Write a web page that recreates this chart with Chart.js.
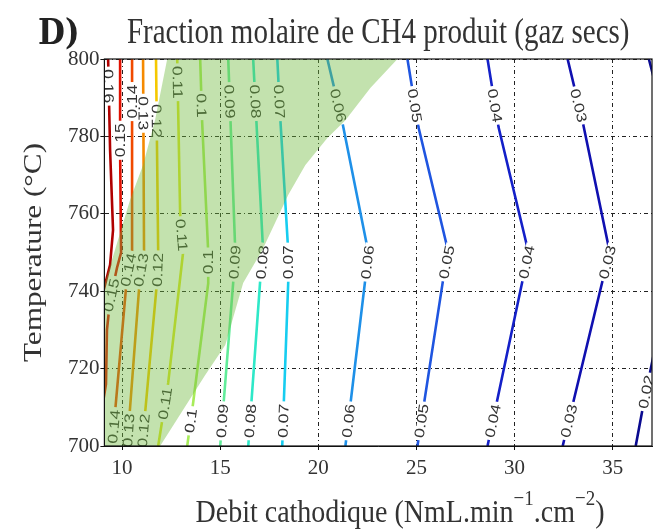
<!DOCTYPE html>
<html>
<head>
<meta charset="utf-8">
<script src="https://cdn.jsdelivr.net/npm/chart.js@4.4.1/dist/chart.umd.min.js"></script>
<style>
  html, body { margin: 0; padding: 0; background: #fff; }
</style>
</head>
<body>
<canvas id="ch4Chart" width="663" height="531"></canvas>
<script>
// axes
const xTicks = [10, 15, 20, 25, 30, 35];
const yTicks = [700, 720, 740, 760, 780, 800];

// iso-lines of CH4 fraction: [debit, temperature]
const levels = [0.16, 0.15, 0.14, 0.13, 0.12, 0.11, 0.1, 0.09, 0.08, 0.07, 0.06, 0.05, 0.04, 0.03, 0.02];
const c16 = [[9.29, 800], [9.39, 776.5], [9.54, 755.8], [9.39, 746.8], [9.05, 740]];
const c15 = [[9.05, 711.9], [9.18, 716], [9.23, 730], [9.39, 737.7], [9.74, 746], [9.95, 750], [9.9, 776.5], [9.9, 800]];
const c14 = [[9.49, 700], [10.26, 744.2], [10.51, 750], [10.51, 800]];
const c13 = [[10.26, 700], [10.92, 744.2], [11.12, 750], [11.07, 800]];
const c12 = [[11.02, 700], [11.79, 742.9], [11.84, 750], [11.73, 800]];
const c11 = [[11.84, 700], [12.35, 716.3], [13.11, 750], [12.96, 759.7], [12.81, 800]];
const c10 = [[13.32, 700], [13.62, 711.1], [14.39, 742.1], [14.39, 750], [14.08, 783.7], [13.98, 800]];
const c09 = [[15.0, 700], [15.66, 742.1], [15.77, 750], [15.41, 800]];
const c08 = [[16.43, 700], [17.04, 742.9], [17.19, 750], [16.68, 800]];
const c07 = [[18.16, 700], [18.47, 742.9], [18.47, 750], [18.06, 784.8], [17.91, 800]];
const c06 = [[21.38, 700], [22.4, 743.4], [22.55, 750], [21.22, 783.7], [20.46, 800]];
const c05 = [[25.05, 700], [26.38, 743.7], [26.63, 750], [25.1, 782.4], [24.54, 800]];
const c04 = [[28.62, 700], [30.41, 742.9], [30.71, 750], [29.18, 782.4], [28.62, 800]];
const c03 = [[32.45, 700], [34.49, 742.9], [34.85, 750], [33.47, 783.7], [32.7, 800]];
const c02 = [[36.17, 700], [36.53, 709.8], [37.3, 729], null, [36.84, 800], [37.3, 791]];
const contourLines = [c16, c15, c14, c13, c12, c11, c10, c09, c08, c07, c06, c05, c04, c03, c02];

// shaded zone (upper and lower edge)
const zoneTop = [[9.1, 741.6], [10.41, 763.6], [11.07, 772.6], [11.68, 784.2], [12.3, 800], [24.03, 800]];
const zoneBottom = [[9.1, 700], [11.94, 700], [14.23, 718.3], [15.26, 726.1], [16.17, 742.1], [17.14, 750.6],
  [18.47, 764.9], [19.34, 772.6], [20.46, 779.6], [21.38, 784.2], [22.65, 792.5], [24.03, 800]];

// where the inline labels sit (level, temperature)
const labelSpots = [
  [0.16, 793], [0.15, 779], [0.15, 739], [0.14, 789], [0.14, 745.5], [0.14, 705],
  [0.13, 786], [0.13, 745.5], [0.13, 704], [0.12, 784], [0.12, 745.5], [0.12, 704],
  [0.11, 794], [0.11, 754.5], [0.11, 711], [0.1, 788], [0.1, 747.5], [0.1, 706.5],
  [0.09, 789], [0.09, 747.5], [0.09, 706.5], [0.08, 789], [0.08, 747.5], [0.08, 706.5],
  [0.07, 789], [0.07, 747.5], [0.07, 706.5], [0.06, 788], [0.06, 747.5], [0.06, 706.5],
  [0.05, 788], [0.05, 747.5], [0.05, 706.5], [0.04, 788], [0.04, 747.5], [0.04, 706.5],
  [0.03, 788], [0.03, 747.5], [0.03, 706.5], [0.02, 714]
];

const lineColors = ['#b00000', '#e01000', '#f04a00', '#f58a00', '#f5c800', '#dce628', '#a8ec5a', '#62ec9a',
  '#2ee8c8', '#16cdf0', '#1e90e8', '#1f55e0', '#1420c8', '#1010b0', '#0a0a90'];

const toXY = pts => pts.map(p => p ? {x: p[0], y: p[1]} : {x: 37, y: null});

const datasets = contourLines.map((pts, i) => ({
  data: toXY(pts),
  borderColor: lineColors[i],
  borderWidth: 2.6,
  pointRadius: 0,
  tension: 0,
  fill: false,
  order: 0
}));
datasets.push({
  data: toXY(zoneTop),
  borderColor: 'rgba(0,0,0,0)',
  borderWidth: 0,
  backgroundColor: 'rgba(112,186,62,0.42)',
  pointRadius: 0,
  fill: '+1',
  order: -1
});
datasets.push({
  data: toXY(zoneBottom),
  borderColor: 'rgba(0,0,0,0)',
  borderWidth: 0,
  pointRadius: 0,
  fill: false,
  order: -1
});

function spotOnLine(chart, pts, yVal) {
  const xs = chart.scales.x, ys = chart.scales.y;
  for (let i = 0; i < pts.length - 1; i++) {
    const p = pts[i], q = pts[i + 1];
    if (!p || !q) continue;
    const lo = Math.min(p[1], q[1]), hi = Math.max(p[1], q[1]);
    if (yVal < lo || yVal > hi || lo === hi) continue;
    const t = (yVal - p[1]) / (q[1] - p[1]);
    const x = p[0] + t * (q[0] - p[0]);
    const dn = p[1] < q[1] ? p : q, up = p[1] < q[1] ? q : p;
    let ang = Math.atan2(ys.getPixelForValue(up[1]) - ys.getPixelForValue(dn[1]),
                         xs.getPixelForValue(up[0]) - xs.getPixelForValue(dn[0]));
    if (ang < -Math.PI / 2) ang += Math.PI;
    if (ang > Math.PI / 2) ang -= Math.PI;
    return {px: xs.getPixelForValue(x), py: ys.getPixelForValue(yVal), ang};
  }
  return null;
}

const decorations = {
  id: 'decorations',
  afterDatasetDraw(chart, args) {
    if (args.index !== 0) return; // last iso-line drawn, shading comes after
    const {ctx, chartArea: a} = chart;
    ctx.save();
    ctx.beginPath();
    ctx.rect(a.left, a.top, a.right - a.left, a.bottom - a.top);
    ctx.clip();
    ctx.font = '14px "Liberation Sans"';
    ctx.textAlign = 'center';
    ctx.textBaseline = 'middle';
    labelSpots.forEach(([lev, t]) => {
      const s = spotOnLine(chart, contourLines[levels.indexOf(lev)], t);
      if (!s) return;
      const txt = String(lev);
      ctx.save();
      ctx.translate(s.px, s.py);
      ctx.rotate(s.ang);
      ctx.scale(1.25, 1);
      const w = ctx.measureText(txt).width;
      ctx.fillStyle = '#fff';
      ctx.fillRect(-w / 2 - 2, -4, w + 4, 8);
      ctx.fillStyle = '#333';
      ctx.fillText(txt, 0, 1);
      ctx.restore();
    });
    ctx.restore();
  },
  afterDraw(chart) {
    const {ctx, chartArea: a} = chart;
    ctx.save();
    ctx.setLineDash([]);
    ctx.strokeStyle = '#111';
    ctx.lineWidth = 1.2;
    ctx.strokeRect(a.left, a.top, a.right - a.left, a.bottom - a.top);

    ctx.fillStyle = '#222';
    // panel letter
    ctx.save();
    ctx.translate(38, 44);
    ctx.scale(1, 1.15);
    ctx.font = 'bold 31px "DejaVu Serif"';
    ctx.textAlign = 'left';
    ctx.fillText('D)', 0, 0);
    ctx.restore();

    ctx.fillStyle = '#333';
    // title
    ctx.save();
    ctx.translate((a.left + a.right) / 2, 43);
    ctx.scale(1, 1.2);
    ctx.font = '29px "Liberation Serif"';
    ctx.textAlign = 'center';
    ctx.fillText('Fraction molaire de CH4 produit (gaz secs)', 0, 0);
    ctx.restore();

    // y title
    ctx.save();
    ctx.translate(34, (a.top + a.bottom) / 2);
    ctx.rotate(-Math.PI / 2);
    ctx.scale(1.2, 1);
    ctx.font = '26px "Liberation Serif"';
    ctx.textAlign = 'center';
    ctx.textBaseline = 'middle';
    ctx.fillText('Temperature (°C)', 0, 0);
    ctx.restore();

    // x title with superscripts
    const parts = [['Debit cathodique (NmL.min', false], ['\u22121', true], ['.cm', false], ['\u22122', true], [')', false]];
    const big = '28px "Liberation Serif"', small = '19px "Liberation Serif"';
    let total = 0;
    parts.forEach(([t, sup]) => { ctx.font = sup ? small : big; total += ctx.measureText(t).width; });
    ctx.save();
    ctx.translate(400 - total / 2, 522);
    ctx.scale(1, 1.15);
    ctx.textAlign = 'left';
    let x = 0;
    parts.forEach(([t, sup]) => {
      ctx.font = sup ? small : big;
      ctx.fillText(t, x, sup ? -15 : 0);
      x += ctx.measureText(t).width;
    });
    ctx.restore();
    ctx.restore();
  }
};

const gridStyle = {
  color: '#222',
  lineWidth: 1,
  drawTicks: true,
  tickLength: 4,
  tickColor: '#111',
  tickBorderDash: []
};
const gridBorder = { display: true, color: '#111', width: 1, dash: [4, 3, 1, 3] };

new Chart(document.getElementById('ch4Chart'), {
  type: 'line',
  data: { datasets },
  options: {
    responsive: false,
    animation: false,
    devicePixelRatio: 1,
    layout: { padding: { top: 59, right: 11, left: 0, bottom: 0 } },
    plugins: { legend: { display: false }, tooltip: { enabled: false } },
    scales: {
      x: {
        type: 'linear',
        min: 9.1,
        max: 37,
        grid: gridStyle,
        border: gridBorder,
        afterBuildTicks: s => { s.ticks = xTicks.map(v => ({value: v})); },
        afterFit: s => { s.height = 85; },
        ticks: { color: '#333', padding: 6, font: { family: 'Liberation Serif', size: 21 } }
      },
      y: {
        type: 'linear',
        min: 700,
        max: 800,
        grid: gridStyle,
        border: gridBorder,
        afterBuildTicks: s => { s.ticks = yTicks.map(v => ({value: v})); },
        afterFit: s => { s.width = 104.4; },
        ticks: { color: '#333', padding: 1, font: { family: 'Liberation Serif', size: 21 } }
      }
    }
  },
  plugins: [decorations]
});
</script>
</body>
</html>
